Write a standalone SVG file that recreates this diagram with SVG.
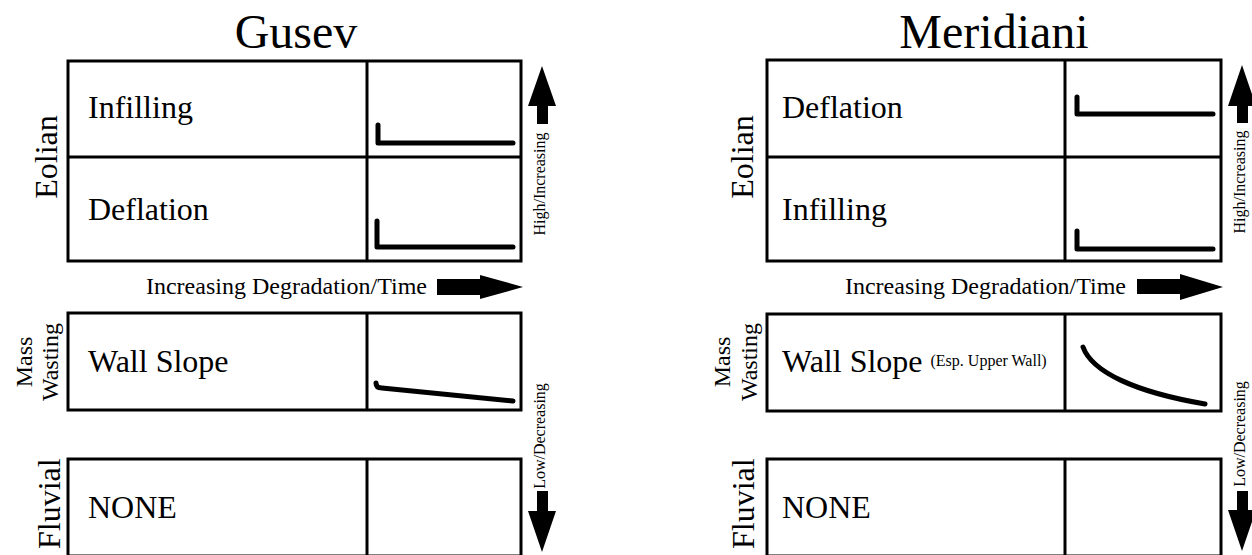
<svg xmlns="http://www.w3.org/2000/svg" width="1252" height="555" viewBox="0 0 1252 555">
<style>
text{font-family:"Liberation Serif","Times New Roman",serif;fill:#000}
.title{font-size:48px;text-anchor:middle}
.lbl{font-size:32px}
.side{font-size:32px}
.mw{font-size:24px;text-anchor:middle}
.small{font-size:16px}
.axis{font-size:24px;text-anchor:end}
.box{fill:#fff;stroke:#000;stroke-width:3}
.div{stroke:#000;stroke-width:3;fill:none}
.crv{stroke:#000;stroke-width:5;fill:none;stroke-linecap:round;stroke-linejoin:round}
.arr{fill:#000}
</style>
<rect width="1252" height="555" fill="#fff"/>

<!-- Gusev panel -->
<g id="gusev">
  <text class="title" x="296" y="48">Gusev</text>
  <g id="gusev-eolian">
    <rect class="box" x="68" y="61" width="453" height="200"/>
    <line class="div" x1="68" y1="157" x2="521" y2="157"/>
    <line class="div" x1="367" y1="61" x2="367" y2="261"/>
    <text class="side" transform="translate(57,157) rotate(-90)" text-anchor="middle">Eolian</text>
    <text class="lbl" x="88" y="118">Infilling</text>
    <text class="lbl" x="88" y="220">Deflation</text>
    <path class="crv" d="M378,125 L378,143 L513,143"/>
    <path class="crv" d="M377,221 L377,247 L513,247"/>
  </g>
  <g id="gusev-mass">
    <rect class="box" x="68" y="313" width="453" height="97"/>
    <line class="div" x1="367" y1="313" x2="367" y2="410"/>
    <text class="mw" transform="translate(32,362) rotate(-90)">Mass</text>
    <text class="mw" transform="translate(58,362) rotate(-90)">Wasting</text>
    <text class="lbl" x="88" y="372">Wall Slope</text>
    <path class="crv" d="M376,383 Q376,388 382,388 L513,401"/>
  </g>
  <g id="gusev-fluvial">
    <rect class="box" x="68" y="459" width="453" height="97"/>
    <line class="div" x1="367" y1="459" x2="367" y2="556"/>
    <text class="side" transform="translate(60,549) rotate(-90)">Fluvial</text>
    <text class="lbl" x="88" y="518">NONE</text>
  </g>
  <g id="gusev-axes">
    <text class="axis" x="427" y="294">Increasing Degradation/Time</text>
    <text class="small" transform="translate(545,184) rotate(-90)" text-anchor="middle">High/Increasing</text>
    <text class="small" transform="translate(545,436) rotate(-90)" text-anchor="middle">Low/Decreasing</text>
  </g>
</g>

<!-- Meridiani panel -->
<g id="meridiani">
  <text class="title" x="994" y="48">Meridiani</text>
  <g id="meridiani-eolian">
    <rect class="box" x="767" y="60" width="454" height="201"/>
    <line class="div" x1="767" y1="157" x2="1221" y2="157"/>
    <line class="div" x1="1065" y1="60" x2="1065" y2="261"/>
    <text class="side" transform="translate(753,157) rotate(-90)" text-anchor="middle">Eolian</text>
    <text class="lbl" x="782" y="118">Deflation</text>
    <text class="lbl" x="782" y="220">Infilling</text>
    <path class="crv" d="M1077,97 L1077,114 L1213,114"/>
    <path class="crv" d="M1077,231 L1077,249 L1213,249"/>
  </g>
  <g id="meridiani-mass">
    <rect class="box" x="767" y="314" width="454" height="97"/>
    <line class="div" x1="1065" y1="314" x2="1065" y2="411"/>
    <text class="mw" transform="translate(730,362) rotate(-90)">Mass</text>
    <text class="mw" transform="translate(757,362) rotate(-90)">Wasting</text>
    <text class="lbl" x="782" y="372">Wall Slope <tspan class="small" dy="-6">(Esp. Upper Wall)</tspan></text>
    <path class="crv" d="M1083,347 C1092,372 1135,392 1205,404"/>
  </g>
  <g id="meridiani-fluvial">
    <rect class="box" x="767" y="459" width="454" height="97"/>
    <line class="div" x1="1065" y1="459" x2="1065" y2="556"/>
    <text class="side" transform="translate(754,549) rotate(-90)">Fluvial</text>
    <text class="lbl" x="782" y="518">NONE</text>
  </g>
  <g id="meridiani-axes">
    <text class="axis" x="1126" y="294">Increasing Degradation/Time</text>
    <text class="small" transform="translate(1245,182) rotate(-90)" text-anchor="middle">High/Increasing</text>
    <text class="small" transform="translate(1245,434) rotate(-90)" text-anchor="middle">Low/Decreasing</text>
  </g>
</g>

<!-- connectors / arrows -->
<g id="connectors">
  <polygon class="arr" points="437,279 480,279 480,275 523,287 480,299 480,295 437,295"/>
  <polygon class="arr" points="1137,279 1180,279 1180,274 1223,287 1180,300 1180,294 1137,294"/>
  <polygon class="arr" points="542,66 556,106 548,106 548,124 537,124 537,106 528,106"/>
  <polygon class="arr" points="1242,65 1256,106 1248,106 1248,123 1237,123 1237,106 1228,106"/>
  <polygon class="arr" points="537,491 548,491 548,511 556,511 542,552 528,511 537,511"/>
  <polygon class="arr" points="1237,491 1248,491 1248,510 1256,510 1242,551 1228,510 1237,510"/>
</g>
</svg>
